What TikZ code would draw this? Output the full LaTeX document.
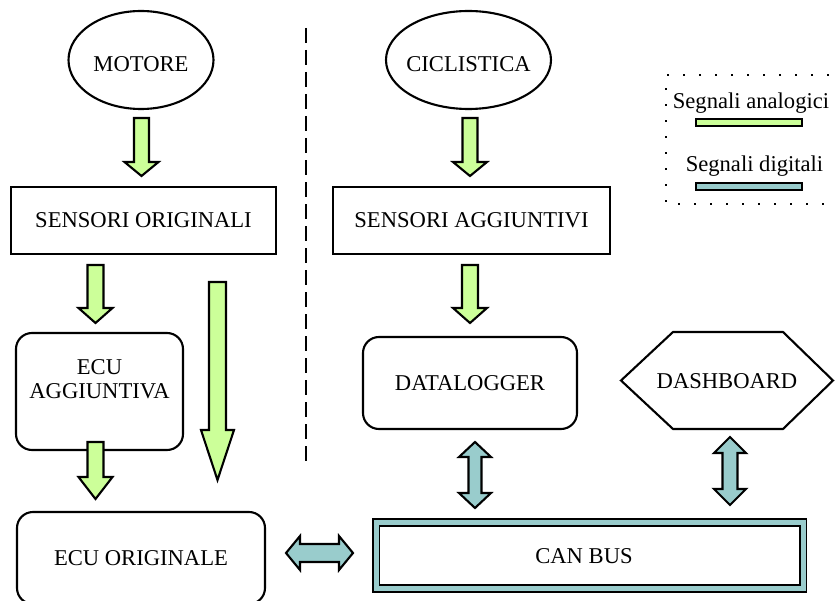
\documentclass[tikz,border=0pt]{standalone}
\usepackage{fontspec}
\setmainfont{Liberation Serif}
\usetikzlibrary{shapes.geometric,calc}
\definecolor{anagreen}{RGB}{204,255,153}
\definecolor{digteal}{RGB}{153,204,204}

\tikzset{
  every node/.style={font=\fontsize{22.6bp}{24bp}\selectfont},
  lw/.style={line width=2.1bp},
  oval/.style={ellipse, draw, lw, inner sep=0pt},
  plainbox/.style={rectangle, draw, lw, inner sep=0pt},
  roundbox/.style={rectangle, draw, lw, rounded corners=16bp, inner sep=0pt},
  analog/.style={draw, lw, fill=anagreen, line join=miter},
  digital/.style={draw, lw, fill=digteal, line join=miter},
  swatch/.style={rectangle, draw, line width=1.4bp, inner sep=0pt,
                 minimum width=106bp, minimum height=7bp},
}

% block arrow pointing down: style, tail point, tip point, shaft half width, head half width, head length
\newcommand{\downblock}[6]{%
  \draw[#1] let \p1=(#2), \p2=(#3) in
    (\x1-#4,\y1) -- (\x1+#4,\y1) -- (\x1+#4,\y2+#6) -- (\x1+#5,\y2+#6)
    -- (\x1,\y2) -- (\x1-#5,\y2+#6) -- (\x1-#4,\y2+#6) -- cycle;}
% vertical two-headed block arrow: style, upper tip, lower tip, shaft half, head half, head length
\newcommand{\vdoubleblock}[6]{%
  \draw[#1] let \p1=(#2), \p2=(#3) in
    (\x1,\y1) -- (\x1+#5,\y1-#6) -- (\x1+#4,\y1-#6) -- (\x1+#4,\y2+#6)
    -- (\x1+#5,\y2+#6) -- (\x1,\y2) -- (\x1-#5,\y2+#6) -- (\x1-#4,\y2+#6)
    -- (\x1-#4,\y1-#6) -- (\x1-#5,\y1-#6) -- cycle;}
% horizontal two-headed block arrow: style, left tip, right tip, shaft half, head half, head length
\newcommand{\hdoubleblock}[6]{%
  \draw[#1] let \p1=(#2), \p2=(#3) in
    (\x1,\y1) -- (\x1+#6,\y1+#5) -- (\x1+#6,\y1+#4) -- (\x2-#6,\y1+#4)
    -- (\x2-#6,\y1+#5) -- (\x2,\y1) -- (\x2-#6,\y1-#5) -- (\x2-#6,\y1-#4)
    -- (\x1+#6,\y1-#4) -- (\x1+#6,\y1-#5) -- cycle;}

\begin{document}
\begin{tikzpicture}[x=1bp,y=-1bp]
\useasboundingbox (0,0) rectangle (835,601);

% ---- sources and boxes ----
\node[oval, minimum width=145bp, minimum height=98bp] (motore) at (141,60) {};
\node (motoretxt) at (141,64) {MOTORE};
\node[oval, minimum width=165bp, minimum height=98bp] (cicl) at (468.5,60) {};
\node (cicltxt) at (468.5,64) {CICLISTICA};

\node[plainbox, minimum width=265bp, minimum height=67bp] (sensorig) at (143.5,220.5) {SENSORI ORIGINALI};
\node[plainbox, minimum width=277bp, minimum height=67bp] (sensagg) at (471.5,220.5) {SENSORI AGGIUNTIVI};

\node[roundbox, minimum width=167bp, minimum height=117bp] (ecuagg) at (99.5,391.5) {};
\node[align=center] (ecuaggtxt) at (99.5,379) {ECU\\AGGIUNTIVA};

\node[roundbox, minimum width=248bp, minimum height=92bp] (ecuorig) at (141,558) {ECU ORIGINALE};

\node[roundbox, minimum width=214bp, minimum height=92bp] (datalog) at (470,383) {DATALOGGER};

\node (dashb) at (727,381) {DASHBOARD};
\draw[lw] ($(dashb)+(-106,-0.5)$) -- ($(dashb)+(-54,-49)$) -- ($(dashb)+(56,-49)$)
  -- ($(dashb)+(106,-0.5)$) -- ($(dashb)+(56,48)$) -- ($(dashb)+(-54,48)$) -- cycle;

\node[rectangle, draw=black, line width=1.8bp, double=digteal, double distance=5bp,
      minimum width=427bp, minimum height=66bp, inner sep=0pt, fill=white] (canbus) at (589.5,555.5) {};
\node (canbustxt) at (584,556) {CAN BUS};

% ---- separator ----
\draw[line width=2.2bp, dash pattern=on 15bp off 7bp] (306,28) -- (306,463);

% ---- analog signal arrows ----
\coordinate (a1s) at (141.5,118); \coordinate (a1e) at (141.5,176);
\coordinate (a2s) at (470,118);   \coordinate (a2e) at (470,176);
\coordinate (a3s) at (95.5,265);  \coordinate (a3e) at (95.5,323);
\coordinate (a4s) at (217.5,282); \coordinate (a4e) at (217.5,480);
\coordinate (a5s) at (95.5,442);  \coordinate (a5e) at (95.5,499);
\coordinate (a6s) at (470,265);   \coordinate (a6e) at (470,323);
\downblock{analog}{a1s}{a1e}{7.5bp}{17bp}{14bp}
\downblock{analog}{a2s}{a2e}{7.5bp}{17bp}{14bp}
\downblock{analog}{a3s}{a3e}{8bp}{17bp}{15bp}
\downblock{analog}{a4s}{a4e}{8.5bp}{16.5bp}{50bp}
\downblock{analog}{a5s}{a5e}{8bp}{17bp}{22bp}
\downblock{analog}{a6s}{a6e}{8bp}{17bp}{15bp}

% ---- digital links ----
\coordinate (d1t) at (475,442); \coordinate (d1b) at (475,508);
\coordinate (d2t) at (730,437); \coordinate (d2b) at (730,505);
\coordinate (d3l) at (286,553); \coordinate (d3r) at (353,553);
\vdoubleblock{digital}{d1t}{d1b}{6.5bp}{16bp}{15bp}
\vdoubleblock{digital}{d2t}{d2b}{7.5bp}{16bp}{16bp}
\hdoubleblock{digital}{d3l}{d3r}{9bp}{17bp}{14bp}

% ---- legend ----
\draw[line width=2bp, dash pattern=on 2bp off 14bp] (845,75) -- (666,75) -- (666,204) -- (845,204);
\node (leganalog) at (751,103) {Segnali analogici};
\node[swatch, fill=anagreen] (swanalog) at (749,122.5) {};
\node (legdigital) at (754.5,166.5) {Segnali digitali};
\node[swatch, fill=digteal] (swdigital) at (749,186.5) {};
\end{tikzpicture}
\end{document}
